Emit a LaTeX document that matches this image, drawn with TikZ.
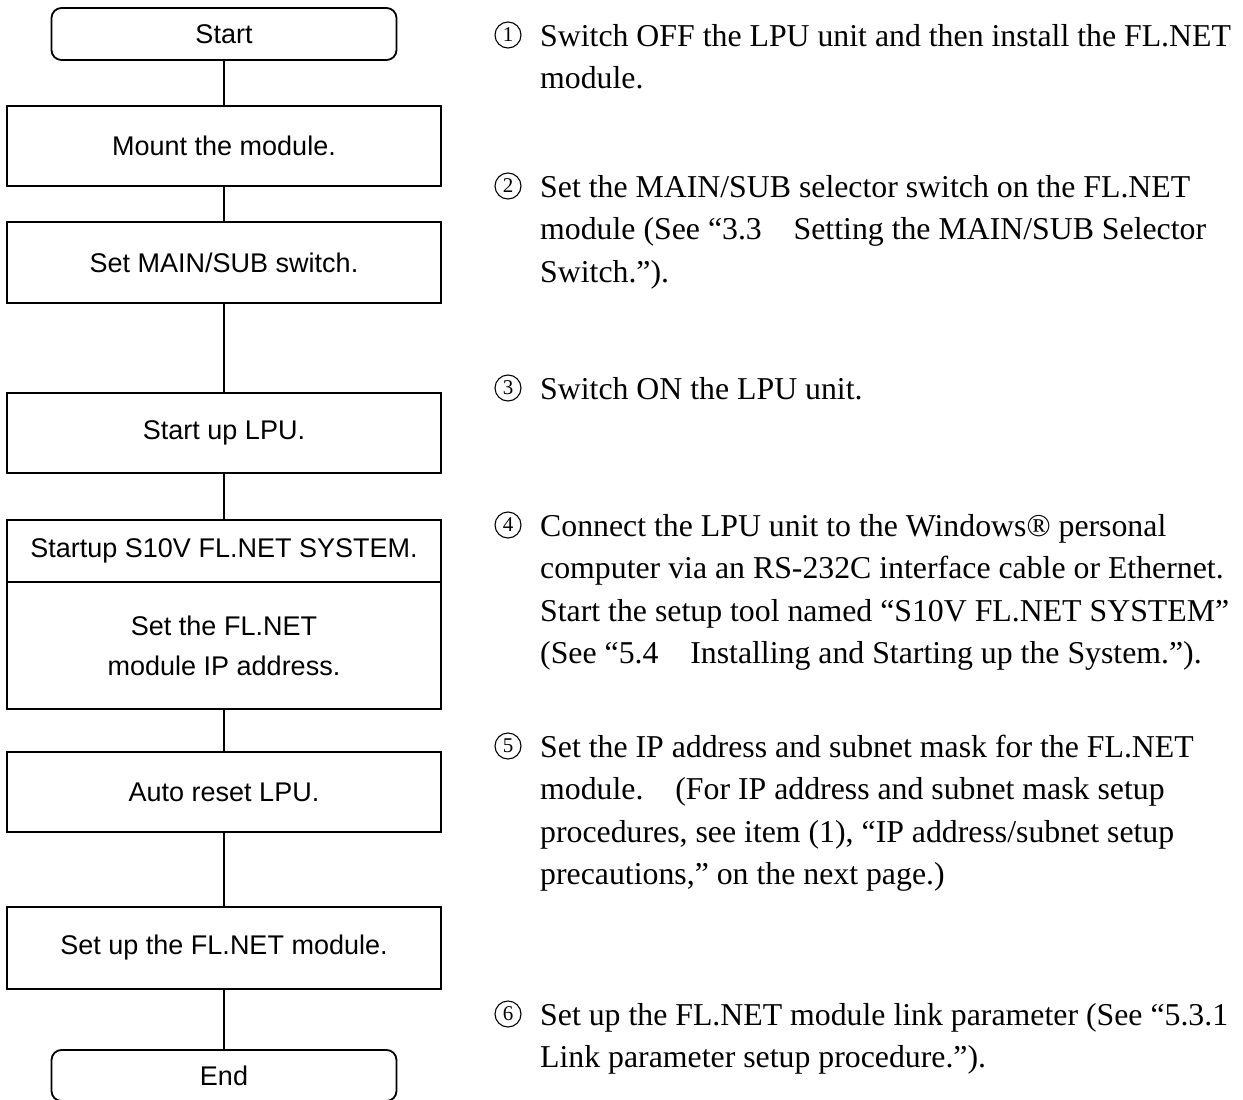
\documentclass[tikz,border=0pt]{standalone}
\usepackage{fontspec}
\setmainfont{Liberation Serif}
\newfontfamily\boxfont{Liberation Sans}
\begin{document}
\begin{tikzpicture}[x=1pt,y=-1pt,
  box/.style={draw, line width=1.8pt, minimum width=434pt, inner sep=0pt,
    font=\boxfont\fontsize{27}{40}\selectfont, align=center},
  term/.style={box, rounded corners=10pt, minimum width=345pt},
  conn/.style={line width=1.8pt},
  txt/.style={anchor=base west, inner sep=0pt, font=\fontsize{31.8}{42.6}\selectfont},
  num/.style={circle, draw, line width=1.1pt, minimum size=26pt, inner sep=0pt,
    font=\fontsize{21}{21}\selectfont}]
\fill[white] (0,0) rectangle (1243,1100);
\useasboundingbox (0,0) rectangle (1243,1100);
% flowchart
\node[term, minimum height=52pt] (start) at (224,34) {Start};
\node[box, minimum height=80pt] (mount) at (224,146) {Mount the module.};
\node[box, minimum height=81pt] (mainsub) at (224,262.5) {Set MAIN/SUB switch.};
\node[box, minimum height=80pt] (lpu) at (224,433) {Start up LPU.};
\node[box, minimum height=62pt] (sys) at (224,551) {Startup S10V FL.NET SYSTEM.};
\node[box, minimum height=127pt] (ip) at (224,645.5) {Set the FL.NET\\module IP address.};
\node[box, minimum height=80pt] (reset) at (224,792) {Auto reset LPU.};
\node[box, minimum height=82pt] (setup) at (224,948) {Set up the FL.NET module.};
\node[term, minimum height=51pt] (end) at (224,1075.5) {End};
\draw[conn] (start) -- (mount);
\draw[conn] (mount) -- (mainsub);
\draw[conn] (mainsub) -- (lpu);
\draw[conn] (lpu) -- (sys);
\draw[conn] (ip) -- (reset);
\draw[conn] (reset) -- (setup);
\draw[conn] (setup) -- (end);
% explanations
\node[num] (n1) at (508,35) {1};
\node[txt] (t1a) at (540,46) {Switch OFF the LPU unit and then install the FL.NET};
\node[txt] (t1b) at (540,88.6) {module.};
\node[num] (n2) at (508,186) {2};
\node[txt] (t2a) at (540,197) {Set the MAIN/SUB selector switch on the FL.NET};
\node[txt] (t2b) at (540,239.6) {module (See “3.3\hspace{1em}Setting the MAIN/SUB Selector};
\node[txt] (t2c) at (540,282.2) {Switch.”).};
\node[num] (n3) at (508,388) {3};
\node[txt] (t3a) at (540,399) {Switch ON the LPU unit.};
\node[num] (n4) at (508,525) {4};
\node[txt] (t4a) at (540,536) {Connect the LPU unit to the Windows® personal};
\node[txt] (t4b) at (540,578.6) {computer via an RS-232C interface cable or Ethernet.};
\node[txt] (t4c) at (540,621.2) {Start the setup tool named “S10V FL.NET SYSTEM”};
\node[txt] (t4d) at (540,663.8) {(See “5.4\hspace{1em}Installing and Starting up the System.”).};
\node[num] (n5) at (508,746) {5};
\node[txt] (t5a) at (540,757) {Set the IP address and subnet mask for the FL.NET};
\node[txt] (t5b) at (540,799.6) {module.\hspace{1em}(For IP address and subnet mask setup};
\node[txt] (t5c) at (540,842.2) {procedures, see item (1), “IP address/subnet setup};
\node[txt] (t5d) at (540,884.8) {precautions,” on the next page.)};
\node[num] (n6) at (508,1014) {6};
\node[txt] (t6a) at (540,1025) {Set up the FL.NET module link parameter (See “5.3.1};
\node[txt] (t6b) at (540,1067.6) {Link parameter setup procedure.”).};
\end{tikzpicture}
\end{document}
